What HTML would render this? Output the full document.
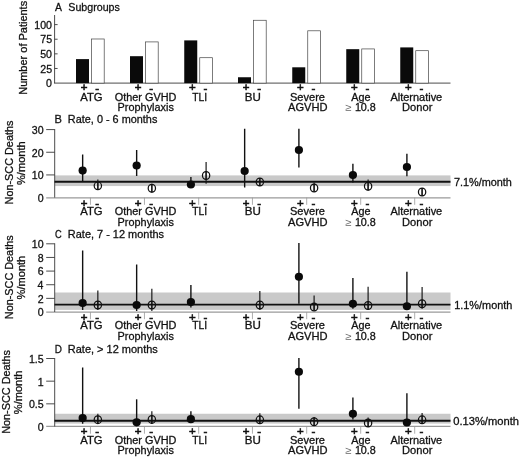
<!DOCTYPE html>
<html><head><meta charset="utf-8"><title>Non-SCC deaths by subgroup</title>
<style>
html,body{margin:0;padding:0;background:#fff}
svg{display:block}
text{font-family:"Liberation Sans",sans-serif;font-size:10.6px;fill:#111;stroke:#111;stroke-width:0.28px}
.pm{font-size:11.5px;stroke-width:0.6px}
.ge{fill:#666;stroke:none}
.ax{stroke:#383838;stroke-width:0.9}
.xax{stroke:#9a9a9a;stroke-width:1.2}
.tk{stroke:#999;stroke-width:0.8}
.eb{stroke:#111;stroke-width:1.4}
.eo{stroke:#111;stroke-width:1.15}
.ml{stroke:#111;stroke-width:1.9}
.bk{fill:#0a0a0a}
.wh{fill:#fff;stroke:#444;stroke-width:0.7}
.band{fill:#c9c9c9}
.fp{fill:#0a0a0a}
.op{fill:none;stroke:#111;stroke-width:1.25}
</style></head><body>
<svg width="520" height="459" viewBox="0 0 520 459">
<rect width="520" height="459" fill="#fff"/>
<text transform="translate(54.98,11.00) scale(0.9818,1)">A</text>
<text transform="translate(68.27,11.00) scale(1.0067,1)">Subgroups</text>
<line x1="54.60" y1="15.00" x2="54.60" y2="83.10" class="ax"/>
<line x1="54.00" y1="83.10" x2="450.50" y2="83.10" class="ax"/>
<text transform="translate(46.11,87.20) scale(1.0000,1)">0</text>
<line x1="54.60" y1="68.47" x2="57.60" y2="68.47" class="ax"/>
<text transform="translate(40.25,72.57) scale(1.0000,1)">25</text>
<line x1="54.60" y1="53.85" x2="57.60" y2="53.85" class="ax"/>
<text transform="translate(40.22,57.95) scale(1.0000,1)">50</text>
<line x1="54.60" y1="39.22" x2="57.60" y2="39.22" class="ax"/>
<text transform="translate(40.25,43.32) scale(1.0000,1)">75</text>
<line x1="54.60" y1="24.60" x2="57.60" y2="24.60" class="ax"/>
<text transform="translate(34.32,28.70) scale(1.0000,1)">100</text>
<rect x="76.00" y="59.11" width="13" height="23.98" class="bk"/>
<rect x="91.50" y="38.99" width="12.7" height="44.11" class="wh"/>
<rect x="130.00" y="56.19" width="13" height="26.91" class="bk"/>
<rect x="145.50" y="41.91" width="12.7" height="41.18" class="wh"/>
<rect x="184.25" y="40.39" width="13" height="42.70" class="bk"/>
<rect x="199.75" y="57.71" width="12.7" height="25.39" class="wh"/>
<rect x="238.00" y="77.25" width="13" height="5.85" class="bk"/>
<rect x="253.50" y="20.27" width="12.7" height="62.83" class="wh"/>
<rect x="292.25" y="67.30" width="13" height="15.79" class="bk"/>
<rect x="307.75" y="30.80" width="12.7" height="52.30" class="wh"/>
<rect x="346.25" y="49.17" width="13" height="33.93" class="bk"/>
<rect x="361.75" y="48.93" width="12.7" height="34.16" class="wh"/>
<rect x="400.25" y="47.41" width="13" height="35.68" class="bk"/>
<rect x="415.75" y="50.69" width="12.7" height="32.41" class="wh"/>
<text transform="translate(27.30,94.80) rotate(-90) scale(1.0370,1)">Number of Patients</text>
<text x="84.05" y="91.40" text-anchor="middle" class="pm">+</text>
<text x="97.05" y="91.60" text-anchor="middle" class="pm">-</text>
<text transform="translate(80.23,100.70) scale(1.0666,1)">ATG</text>
<text x="138.05" y="91.40" text-anchor="middle" class="pm">+</text>
<text x="151.05" y="91.60" text-anchor="middle" class="pm">-</text>
<text transform="translate(114.79,100.70) scale(1.0273,1)">Other GVHD</text>
<text transform="translate(117.61,111.20) scale(1.0273,1)">Prophylaxis</text>
<text x="192.30" y="91.40" text-anchor="middle" class="pm">+</text>
<text x="205.30" y="91.60" text-anchor="middle" class="pm">-</text>
<text transform="translate(192.27,100.70) scale(0.9746,1)">TLI</text>
<text x="246.05" y="91.40" text-anchor="middle" class="pm">+</text>
<text x="259.05" y="91.60" text-anchor="middle" class="pm">-</text>
<text transform="translate(244.80,100.70) scale(1.0921,1)">BU</text>
<text x="300.30" y="91.40" text-anchor="middle" class="pm">+</text>
<text x="313.30" y="91.60" text-anchor="middle" class="pm">-</text>
<text transform="translate(290.00,100.70) scale(1.0417,1)">Severe</text>
<text transform="translate(287.98,111.20) scale(1.0491,1)">AGVHD</text>
<text x="354.30" y="91.40" text-anchor="middle" class="pm">+</text>
<text x="367.30" y="91.60" text-anchor="middle" class="pm">-</text>
<text transform="translate(351.23,100.70) scale(1.0207,1)">Age</text>
<text transform="translate(345.45,111.20) scale(1.0654,1)" class="ge">≥</text>
<text transform="translate(354.88,111.20) scale(1.0172,1)">10.8</text>
<text x="408.30" y="91.40" text-anchor="middle" class="pm">+</text>
<text x="421.30" y="91.60" text-anchor="middle" class="pm">-</text>
<text transform="translate(390.38,100.70) scale(1.0366,1)">Alternative</text>
<text transform="translate(402.09,111.20) scale(1.0490,1)">Donor</text>
<text transform="translate(54.59,122.50) scale(1.0443,1)">B</text>
<text transform="translate(67.86,122.50) scale(1.0268,1)">Rate, 0 - 6 months</text>
<rect x="55" y="175.40" width="395.5" height="10.65" class="band"/>
<line x1="46.20" y1="197.80" x2="450.50" y2="197.80" class="xax"/>
<line x1="54.70" y1="129.09" x2="54.70" y2="197.60" class="ax"/>
<text transform="translate(37.71,202.00) scale(1.0000,1)">0</text>
<line x1="46.20" y1="174.93" x2="54.70" y2="174.93" class="ax"/>
<text transform="translate(31.82,179.33) scale(1.0000,1)">10</text>
<line x1="46.20" y1="152.26" x2="54.70" y2="152.26" class="ax"/>
<text transform="translate(31.82,156.66) scale(1.0000,1)">20</text>
<line x1="46.20" y1="129.59" x2="54.70" y2="129.59" class="ax"/>
<text transform="translate(31.82,133.99) scale(1.0000,1)">30</text>
<line x1="54.5" y1="181.70" x2="450.5" y2="181.70" class="ml"/>
<text transform="translate(453.95,185.70) scale(1.0254,1)">7.1%/month</text>
<line x1="82.65" y1="154.50" x2="82.65" y2="181.00" class="eb"/>
<circle cx="82.65" cy="170.60" r="4.1" class="fp"/>
<line x1="97.85" y1="179.40" x2="97.85" y2="190.00" class="eo"/>
<ellipse cx="97.85" cy="185.80" rx="3.65" ry="3.85" class="op"/>
<line x1="97.85" y1="181.90" x2="97.85" y2="189.70" class="eo"/>
<line x1="136.65" y1="150.00" x2="136.65" y2="176.00" class="eb"/>
<circle cx="136.65" cy="165.50" r="4.1" class="fp"/>
<line x1="151.85" y1="183.75" x2="151.85" y2="192.50" class="eo"/>
<ellipse cx="151.85" cy="188.25" rx="3.65" ry="3.85" class="op"/>
<line x1="151.85" y1="184.35" x2="151.85" y2="192.15" class="eo"/>
<line x1="190.90" y1="177.00" x2="190.90" y2="188.00" class="eb"/>
<circle cx="190.90" cy="184.50" r="4.1" class="fp"/>
<line x1="206.10" y1="162.00" x2="206.10" y2="183.75" class="eo"/>
<ellipse cx="206.10" cy="175.50" rx="3.65" ry="3.85" class="op"/>
<line x1="206.10" y1="171.60" x2="206.10" y2="179.40" class="eo"/>
<line x1="244.65" y1="128.75" x2="244.65" y2="187.50" class="eb"/>
<circle cx="244.65" cy="171.00" r="4.1" class="fp"/>
<line x1="259.85" y1="178.00" x2="259.85" y2="186.00" class="eo"/>
<ellipse cx="259.85" cy="182.00" rx="3.65" ry="3.85" class="op"/>
<line x1="259.85" y1="178.10" x2="259.85" y2="185.90" class="eo"/>
<line x1="298.90" y1="128.75" x2="298.90" y2="167.50" class="eb"/>
<circle cx="298.90" cy="150.00" r="4.1" class="fp"/>
<line x1="314.10" y1="182.50" x2="314.10" y2="191.60" class="eo"/>
<ellipse cx="314.10" cy="188.00" rx="3.65" ry="3.85" class="op"/>
<line x1="314.10" y1="184.10" x2="314.10" y2="191.90" class="eo"/>
<line x1="352.90" y1="163.75" x2="352.90" y2="182.50" class="eb"/>
<circle cx="352.90" cy="175.00" r="4.1" class="fp"/>
<line x1="368.10" y1="179.50" x2="368.10" y2="190.50" class="eo"/>
<ellipse cx="368.10" cy="186.25" rx="3.65" ry="3.85" class="op"/>
<line x1="368.10" y1="182.35" x2="368.10" y2="190.15" class="eo"/>
<line x1="406.90" y1="153.75" x2="406.90" y2="176.25" class="eb"/>
<circle cx="406.90" cy="167.00" r="4.1" class="fp"/>
<line x1="422.10" y1="188.00" x2="422.10" y2="195.50" class="eo"/>
<ellipse cx="422.10" cy="192.00" rx="3.65" ry="3.85" class="op"/>
<line x1="422.10" y1="188.10" x2="422.10" y2="195.90" class="eo"/>
<text x="84.05" y="206.60" text-anchor="middle" class="pm">+</text>
<text x="97.05" y="206.80" text-anchor="middle" class="pm">-</text>
<line x1="90.45" y1="197.60" x2="90.45" y2="204.80" class="tk"/>
<text transform="translate(80.23,215.00) scale(1.0666,1)">ATG</text>
<text x="138.05" y="206.60" text-anchor="middle" class="pm">+</text>
<text x="151.05" y="206.80" text-anchor="middle" class="pm">-</text>
<line x1="144.45" y1="197.60" x2="144.45" y2="204.80" class="tk"/>
<text transform="translate(114.79,215.00) scale(1.0273,1)">Other GVHD</text>
<text transform="translate(117.61,225.50) scale(1.0273,1)">Prophylaxis</text>
<text x="192.30" y="206.60" text-anchor="middle" class="pm">+</text>
<text x="205.30" y="206.80" text-anchor="middle" class="pm">-</text>
<line x1="198.70" y1="197.60" x2="198.70" y2="204.80" class="tk"/>
<text transform="translate(192.27,215.00) scale(0.9746,1)">TLI</text>
<text x="246.05" y="206.60" text-anchor="middle" class="pm">+</text>
<text x="259.05" y="206.80" text-anchor="middle" class="pm">-</text>
<line x1="252.45" y1="197.60" x2="252.45" y2="204.80" class="tk"/>
<text transform="translate(244.80,215.00) scale(1.0921,1)">BU</text>
<text x="300.30" y="206.60" text-anchor="middle" class="pm">+</text>
<text x="313.30" y="206.80" text-anchor="middle" class="pm">-</text>
<line x1="306.70" y1="197.60" x2="306.70" y2="204.80" class="tk"/>
<text transform="translate(290.00,215.00) scale(1.0417,1)">Severe</text>
<text transform="translate(287.98,225.50) scale(1.0491,1)">AGVHD</text>
<text x="354.30" y="206.60" text-anchor="middle" class="pm">+</text>
<text x="367.30" y="206.80" text-anchor="middle" class="pm">-</text>
<line x1="360.70" y1="197.60" x2="360.70" y2="204.80" class="tk"/>
<text transform="translate(351.23,215.00) scale(1.0207,1)">Age</text>
<text transform="translate(345.45,225.50) scale(1.0654,1)" class="ge">≥</text>
<text transform="translate(354.88,225.50) scale(1.0172,1)">10.8</text>
<text x="408.30" y="206.60" text-anchor="middle" class="pm">+</text>
<text x="421.30" y="206.80" text-anchor="middle" class="pm">-</text>
<line x1="414.70" y1="197.60" x2="414.70" y2="204.80" class="tk"/>
<text transform="translate(390.38,215.00) scale(1.0366,1)">Alternative</text>
<text transform="translate(402.09,225.50) scale(1.0490,1)">Donor</text>
<text transform="translate(13.10,204.39) rotate(-90) scale(1.0244,1)">Non-SCC Deaths</text>
<text transform="translate(25.10,184.99) rotate(-90) scale(1.0447,1)">%/month</text>
<text transform="translate(55.04,237.50) scale(0.8765,1)">C</text>
<text transform="translate(67.85,237.50) scale(1.0344,1)">Rate, 7 - 12 months</text>
<rect x="55" y="292.50" width="395.5" height="17.40" class="band"/>
<line x1="46.20" y1="312.20" x2="450.50" y2="312.20" class="xax"/>
<line x1="54.70" y1="243.30" x2="54.70" y2="312.00" class="ax"/>
<text transform="translate(37.71,316.40) scale(1.0000,1)">0</text>
<line x1="46.20" y1="298.36" x2="54.70" y2="298.36" class="ax"/>
<text transform="translate(37.84,302.76) scale(1.0000,1)">2</text>
<line x1="46.20" y1="284.72" x2="54.70" y2="284.72" class="ax"/>
<text transform="translate(37.61,289.12) scale(1.0000,1)">4</text>
<line x1="46.20" y1="271.08" x2="54.70" y2="271.08" class="ax"/>
<text transform="translate(37.76,275.48) scale(1.0000,1)">6</text>
<line x1="46.20" y1="257.44" x2="54.70" y2="257.44" class="ax"/>
<text transform="translate(37.76,261.84) scale(1.0000,1)">8</text>
<line x1="46.20" y1="243.80" x2="54.70" y2="243.80" class="ax"/>
<text transform="translate(31.82,248.20) scale(1.0000,1)">10</text>
<line x1="54.5" y1="304.60" x2="450.5" y2="304.60" class="ml"/>
<text transform="translate(454.17,308.60) scale(1.0304,1)">1.1%/month</text>
<line x1="82.65" y1="250.50" x2="82.65" y2="310.00" class="eb"/>
<circle cx="82.65" cy="303.00" r="4.1" class="fp"/>
<line x1="97.85" y1="290.50" x2="97.85" y2="310.00" class="eo"/>
<ellipse cx="97.85" cy="305.00" rx="3.65" ry="3.85" class="op"/>
<line x1="97.85" y1="301.10" x2="97.85" y2="308.90" class="eo"/>
<line x1="136.65" y1="264.50" x2="136.65" y2="311.00" class="eb"/>
<circle cx="136.65" cy="305.00" r="4.1" class="fp"/>
<line x1="151.85" y1="288.75" x2="151.85" y2="311.00" class="eo"/>
<ellipse cx="151.85" cy="305.00" rx="3.65" ry="3.85" class="op"/>
<line x1="151.85" y1="301.10" x2="151.85" y2="308.90" class="eo"/>
<line x1="190.90" y1="285.00" x2="190.90" y2="307.50" class="eb"/>
<circle cx="190.90" cy="302.00" r="4.1" class="fp"/>
<line x1="259.85" y1="291.00" x2="259.85" y2="310.00" class="eo"/>
<ellipse cx="259.85" cy="305.00" rx="3.65" ry="3.85" class="op"/>
<line x1="259.85" y1="301.10" x2="259.85" y2="308.90" class="eo"/>
<line x1="298.90" y1="243.00" x2="298.90" y2="303.75" class="eb"/>
<circle cx="298.90" cy="276.75" r="4.1" class="fp"/>
<line x1="314.10" y1="295.50" x2="314.10" y2="310.00" class="eo"/>
<ellipse cx="314.10" cy="307.00" rx="3.65" ry="3.85" class="op"/>
<line x1="314.10" y1="303.10" x2="314.10" y2="310.90" class="eo"/>
<line x1="352.90" y1="278.00" x2="352.90" y2="308.75" class="eb"/>
<circle cx="352.90" cy="303.75" r="4.1" class="fp"/>
<line x1="368.10" y1="286.75" x2="368.10" y2="310.00" class="eo"/>
<ellipse cx="368.10" cy="305.50" rx="3.65" ry="3.85" class="op"/>
<line x1="368.10" y1="301.60" x2="368.10" y2="309.40" class="eo"/>
<line x1="406.90" y1="271.75" x2="406.90" y2="310.00" class="eb"/>
<circle cx="406.90" cy="306.25" r="4.1" class="fp"/>
<line x1="422.10" y1="287.00" x2="422.10" y2="308.75" class="eo"/>
<ellipse cx="422.10" cy="303.75" rx="3.65" ry="3.85" class="op"/>
<line x1="422.10" y1="299.85" x2="422.10" y2="307.65" class="eo"/>
<text x="84.05" y="321.00" text-anchor="middle" class="pm">+</text>
<text x="97.05" y="321.20" text-anchor="middle" class="pm">-</text>
<line x1="90.45" y1="312.00" x2="90.45" y2="319.20" class="tk"/>
<text transform="translate(80.23,329.40) scale(1.0666,1)">ATG</text>
<text x="138.05" y="321.00" text-anchor="middle" class="pm">+</text>
<text x="151.05" y="321.20" text-anchor="middle" class="pm">-</text>
<line x1="144.45" y1="312.00" x2="144.45" y2="319.20" class="tk"/>
<text transform="translate(114.79,329.40) scale(1.0273,1)">Other GVHD</text>
<text transform="translate(117.61,339.90) scale(1.0273,1)">Prophylaxis</text>
<text x="192.30" y="321.00" text-anchor="middle" class="pm">+</text>
<text x="205.30" y="321.20" text-anchor="middle" class="pm">-</text>
<line x1="198.70" y1="312.00" x2="198.70" y2="319.20" class="tk"/>
<text transform="translate(192.27,329.40) scale(0.9746,1)">TLI</text>
<text x="246.05" y="321.00" text-anchor="middle" class="pm">+</text>
<text x="259.05" y="321.20" text-anchor="middle" class="pm">-</text>
<line x1="252.45" y1="312.00" x2="252.45" y2="319.20" class="tk"/>
<text transform="translate(244.80,329.40) scale(1.0921,1)">BU</text>
<text x="300.30" y="321.00" text-anchor="middle" class="pm">+</text>
<text x="313.30" y="321.20" text-anchor="middle" class="pm">-</text>
<line x1="306.70" y1="312.00" x2="306.70" y2="319.20" class="tk"/>
<text transform="translate(290.00,329.40) scale(1.0417,1)">Severe</text>
<text transform="translate(287.98,339.90) scale(1.0491,1)">AGVHD</text>
<text x="354.30" y="321.00" text-anchor="middle" class="pm">+</text>
<text x="367.30" y="321.20" text-anchor="middle" class="pm">-</text>
<line x1="360.70" y1="312.00" x2="360.70" y2="319.20" class="tk"/>
<text transform="translate(351.23,329.40) scale(1.0207,1)">Age</text>
<text transform="translate(345.45,339.90) scale(1.0654,1)" class="ge">≥</text>
<text transform="translate(354.88,339.90) scale(1.0172,1)">10.8</text>
<text x="408.30" y="321.00" text-anchor="middle" class="pm">+</text>
<text x="421.30" y="321.20" text-anchor="middle" class="pm">-</text>
<line x1="414.70" y1="312.00" x2="414.70" y2="319.20" class="tk"/>
<text transform="translate(390.38,329.40) scale(1.0366,1)">Alternative</text>
<text transform="translate(402.09,339.90) scale(1.0490,1)">Donor</text>
<text transform="translate(13.10,319.19) rotate(-90) scale(1.0244,1)">Non-SCC Deaths</text>
<text transform="translate(25.10,299.39) rotate(-90) scale(1.0447,1)">%/month</text>
<text transform="translate(54.68,353.20) scale(0.9386,1)">D</text>
<text transform="translate(67.85,353.20) scale(1.0361,1)">Rate, &gt; 12 months</text>
<rect x="55" y="413.75" width="395.5" height="9.85" class="band"/>
<line x1="46.20" y1="426.40" x2="450.50" y2="426.40" class="xax"/>
<line x1="54.70" y1="358.00" x2="54.70" y2="426.50" class="ax"/>
<text transform="translate(37.71,430.90) scale(1.0000,1)">0</text>
<line x1="46.20" y1="403.83" x2="54.70" y2="403.83" class="ax"/>
<text transform="translate(28.90,408.23) scale(1.0000,1)">0.5</text>
<line x1="46.20" y1="381.17" x2="54.70" y2="381.17" class="ax"/>
<text transform="translate(37.82,385.57) scale(1.0000,1)">1</text>
<line x1="46.20" y1="358.50" x2="54.70" y2="358.50" class="ax"/>
<text transform="translate(28.90,362.90) scale(1.0000,1)">1.5</text>
<line x1="54.5" y1="420.80" x2="450.5" y2="420.80" class="ml"/>
<text transform="translate(453.16,424.80) scale(1.0560,1)">0.13%/month</text>
<line x1="82.65" y1="367.50" x2="82.65" y2="423.75" class="eb"/>
<circle cx="82.65" cy="418.00" r="4.1" class="fp"/>
<line x1="97.85" y1="413.75" x2="97.85" y2="423.75" class="eo"/>
<ellipse cx="97.85" cy="419.70" rx="3.65" ry="3.85" class="op"/>
<line x1="97.85" y1="415.80" x2="97.85" y2="423.60" class="eo"/>
<line x1="136.65" y1="399.30" x2="136.65" y2="425.00" class="eb"/>
<circle cx="136.65" cy="422.30" r="4.1" class="fp"/>
<line x1="151.85" y1="411.25" x2="151.85" y2="423.75" class="eo"/>
<ellipse cx="151.85" cy="419.40" rx="3.65" ry="3.85" class="op"/>
<line x1="151.85" y1="415.50" x2="151.85" y2="423.30" class="eo"/>
<line x1="190.90" y1="411.25" x2="190.90" y2="423.00" class="eb"/>
<circle cx="190.90" cy="419.20" r="4.1" class="fp"/>
<line x1="259.85" y1="413.20" x2="259.85" y2="423.75" class="eo"/>
<ellipse cx="259.85" cy="419.80" rx="3.65" ry="3.85" class="op"/>
<line x1="259.85" y1="415.90" x2="259.85" y2="423.70" class="eo"/>
<line x1="298.90" y1="358.00" x2="298.90" y2="408.75" class="eb"/>
<circle cx="298.90" cy="371.75" r="4.1" class="fp"/>
<line x1="314.10" y1="417.00" x2="314.10" y2="425.00" class="eo"/>
<ellipse cx="314.10" cy="421.75" rx="3.65" ry="3.85" class="op"/>
<line x1="314.10" y1="417.85" x2="314.10" y2="425.65" class="eo"/>
<line x1="352.90" y1="397.50" x2="352.90" y2="419.50" class="eb"/>
<circle cx="352.90" cy="413.75" r="4.1" class="fp"/>
<line x1="368.10" y1="417.50" x2="368.10" y2="427.00" class="eo"/>
<ellipse cx="368.10" cy="423.00" rx="3.65" ry="3.85" class="op"/>
<line x1="368.10" y1="419.10" x2="368.10" y2="426.90" class="eo"/>
<line x1="406.90" y1="393.20" x2="406.90" y2="425.00" class="eb"/>
<circle cx="406.90" cy="422.50" r="4.1" class="fp"/>
<line x1="422.10" y1="413.00" x2="422.10" y2="424.00" class="eo"/>
<ellipse cx="422.10" cy="419.80" rx="3.65" ry="3.85" class="op"/>
<line x1="422.10" y1="415.90" x2="422.10" y2="423.70" class="eo"/>
<text x="84.05" y="435.00" text-anchor="middle" class="pm">+</text>
<text x="97.05" y="435.20" text-anchor="middle" class="pm">-</text>
<line x1="90.45" y1="426.50" x2="90.45" y2="433.70" class="tk"/>
<text transform="translate(80.23,443.90) scale(1.0666,1)">ATG</text>
<text x="138.05" y="435.00" text-anchor="middle" class="pm">+</text>
<text x="151.05" y="435.20" text-anchor="middle" class="pm">-</text>
<line x1="144.45" y1="426.50" x2="144.45" y2="433.70" class="tk"/>
<text transform="translate(114.79,443.90) scale(1.0273,1)">Other GVHD</text>
<text transform="translate(117.61,454.40) scale(1.0273,1)">Prophylaxis</text>
<text x="192.30" y="435.00" text-anchor="middle" class="pm">+</text>
<text x="205.30" y="435.20" text-anchor="middle" class="pm">-</text>
<line x1="198.70" y1="426.50" x2="198.70" y2="433.70" class="tk"/>
<text transform="translate(192.27,443.90) scale(0.9746,1)">TLI</text>
<text x="246.05" y="435.00" text-anchor="middle" class="pm">+</text>
<text x="259.05" y="435.20" text-anchor="middle" class="pm">-</text>
<line x1="252.45" y1="426.50" x2="252.45" y2="433.70" class="tk"/>
<text transform="translate(244.80,443.90) scale(1.0921,1)">BU</text>
<text x="300.30" y="435.00" text-anchor="middle" class="pm">+</text>
<text x="313.30" y="435.20" text-anchor="middle" class="pm">-</text>
<line x1="306.70" y1="426.50" x2="306.70" y2="433.70" class="tk"/>
<text transform="translate(290.00,443.90) scale(1.0417,1)">Severe</text>
<text transform="translate(287.98,454.40) scale(1.0491,1)">AGVHD</text>
<text x="354.30" y="435.00" text-anchor="middle" class="pm">+</text>
<text x="367.30" y="435.20" text-anchor="middle" class="pm">-</text>
<line x1="360.70" y1="426.50" x2="360.70" y2="433.70" class="tk"/>
<text transform="translate(351.23,443.90) scale(1.0207,1)">Age</text>
<text transform="translate(345.45,454.40) scale(1.0654,1)" class="ge">≥</text>
<text transform="translate(354.88,454.40) scale(1.0172,1)">10.8</text>
<text x="408.30" y="435.00" text-anchor="middle" class="pm">+</text>
<text x="421.30" y="435.20" text-anchor="middle" class="pm">-</text>
<line x1="414.70" y1="426.50" x2="414.70" y2="433.70" class="tk"/>
<text transform="translate(390.38,443.90) scale(1.0366,1)">Alternative</text>
<text transform="translate(402.09,454.40) scale(1.0490,1)">Donor</text>
<text transform="translate(9.50,433.79) rotate(-90) scale(1.0244,1)">Non-SCC Deaths</text>
<text transform="translate(21.50,414.19) rotate(-90) scale(1.0447,1)">%/month</text>
</svg>
</body></html>
